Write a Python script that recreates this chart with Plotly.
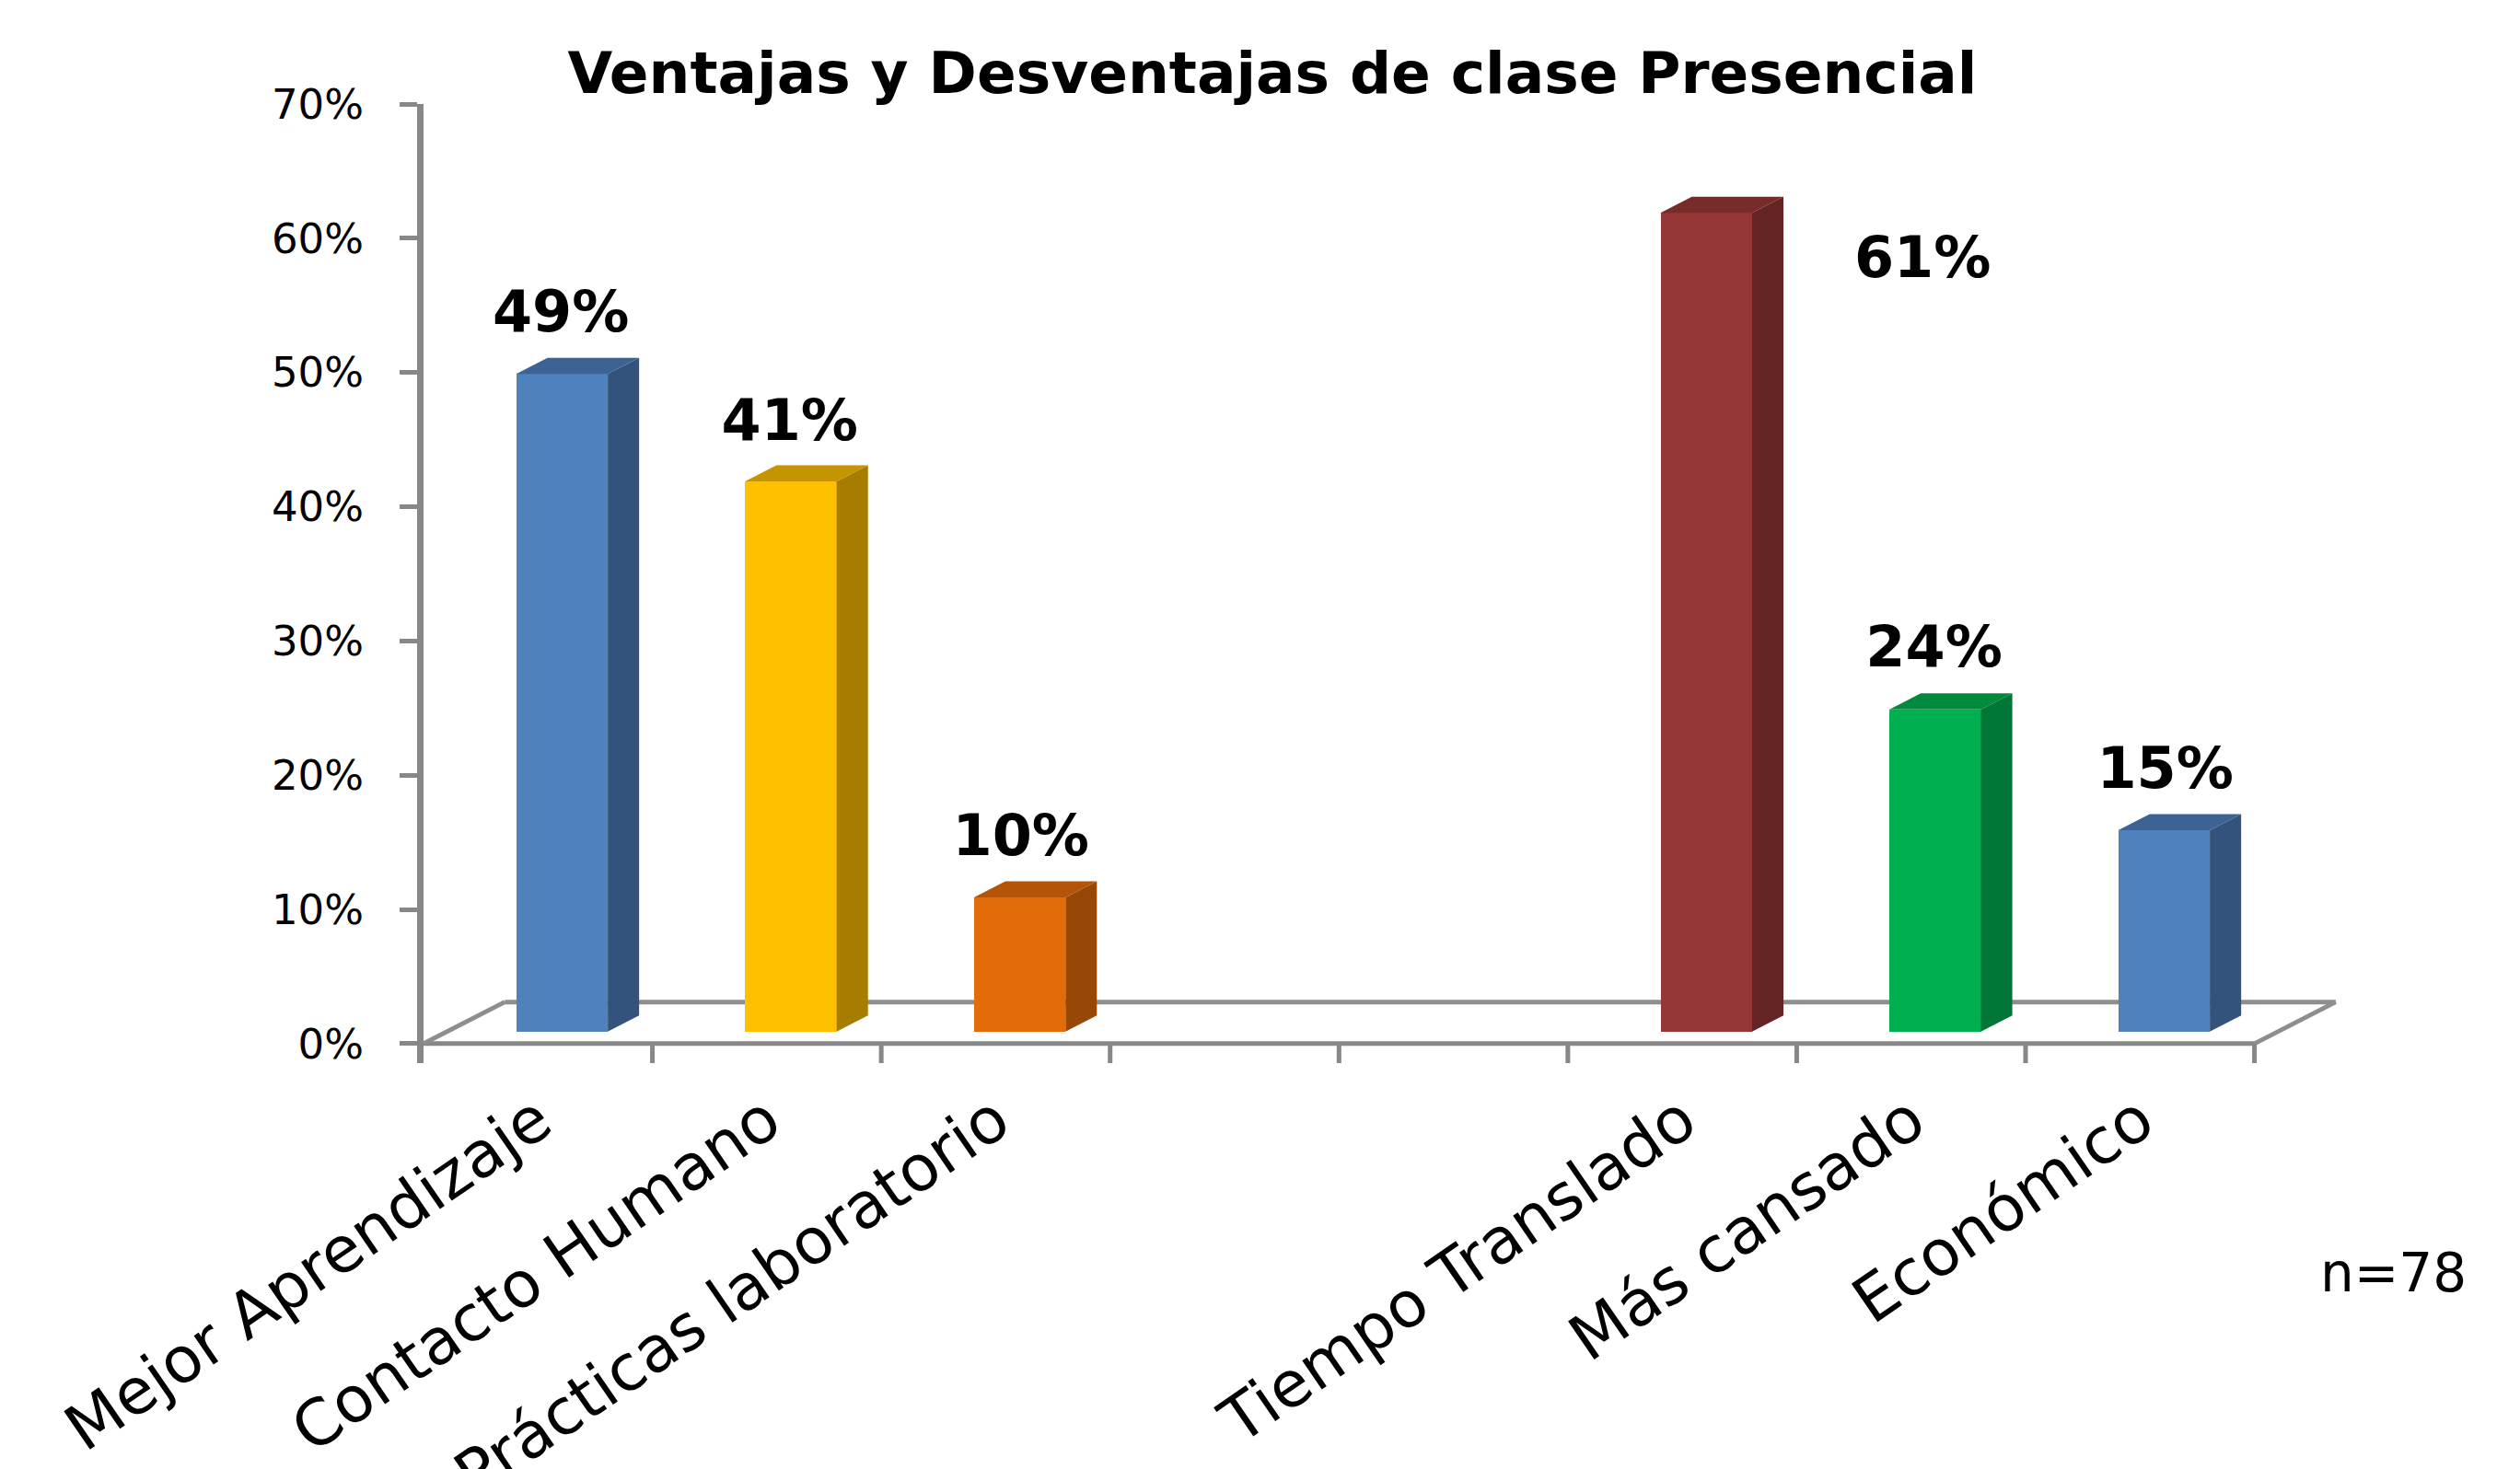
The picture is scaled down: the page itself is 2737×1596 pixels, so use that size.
import plotly.graph_objects as go

# ---------------- data ----------------
categories = ["Mejor Aprendizaje", "Contacto Humano", "Prácticas laboratorio", "", " ",
              "Tiempo Translado", "Más cansado", "Económico"]
bar_categories = ["Mejor Aprendizaje", "Contacto Humano", "Prácticas laboratorio",
                  "Tiempo Translado", "Más cansado", "Económico"]
values = [49, 41, 10, 61, 24, 15]
value_labels = ["49%", "41%", "10%", "61%", "24%", "15%"]
y_tick_values = [0, 10, 20, 30, 40, 50, 60, 70]
y_tick_labels = ["0%", "10%", "20%", "30%", "40%", "50%", "60%", "70%"]
title_text = "Ventajas y Desventajas de clase Presencial"
sample_note = "n=78"

# ---------------- style ----------------
front_colors = ["#4F81BD", "#FFC000", "#E36C0A", "#953735", "#00B050", "#4F81BD"]
side_colors = ["#33537C", "#A67D00", "#974806", "#632423", "#007535", "#33537C"]
top_colors = ["#3C6394", "#C49500", "#B45408", "#772C2A", "#008A3E", "#3C6394"]
label_dx = [0.10, 0.10, 0.11, 1.05, 0.10, 0.11]    # label offset from category centre
label_dy = [5.1, 5.05, 5.1, -2.8, 5.2, 5.1]         # label offset from value

BAR_W = 0.40
FRONT_DX = 0.105
BASE = 0.89
SIDE_DX = 0.137
SIDE_DY = 1.2
FLOOR_DX = 0.355
FLOOR_DY = 3.1
TICK_DOWN = -1.45
X_MAX = 8.4
AXIS_GRAY = "#878787"
FLOOR_GRAY = "#8E8E8E"

n_cat = len(categories)
idx = [categories.index(c) for c in bar_categories]
centers = [i + 0.5 + FRONT_DX for i in idx]

fig = go.Figure()

# front faces
fig.add_trace(go.Bar(x=centers, y=values, base=BASE, width=BAR_W,
                     marker=dict(color=front_colors, line=dict(width=0)),
                     hoverinfo="skip", showlegend=False))

# side and top faces
for c, v, sc, tc in zip(centers, values, side_colors, top_colors):
    x0, x1 = c - BAR_W / 2, c + BAR_W / 2
    top = BASE + v
    fig.add_trace(go.Scatter(
        x=[x1, x1 + SIDE_DX, x1 + SIDE_DX, x1, x1],
        y=[BASE, BASE + SIDE_DY, top + SIDE_DY, top, BASE],
        fill="toself", fillcolor=sc, mode="lines", line=dict(width=0, color=sc),
        hoverinfo="skip", showlegend=False))
    fig.add_trace(go.Scatter(
        x=[x0, x0 + SIDE_DX, x1 + SIDE_DX, x1, x0],
        y=[top, top + SIDE_DY, top + SIDE_DY, top, top],
        fill="toself", fillcolor=tc, mode="lines", line=dict(width=0, color=tc),
        hoverinfo="skip", showlegend=False))

# value labels
fig.add_trace(go.Scatter(
    x=[i + 0.5 + dx for i, dx in zip(idx, label_dx)],
    y=[v + dy for v, dy in zip(values, label_dy)],
    text=value_labels, mode="text",
    textfont=dict(family="DejaVu Sans", size=62, color="black", weight="bold"),
    textposition="middle center", hoverinfo="skip", showlegend=False, cliponaxis=False))

# floor & category ticks (shapes below traces)
shapes = []
def seg(x0, y0, x1, y1, w, col):
    shapes.append(dict(type="line", xref="x", yref="y", x0=x0, y0=y0, x1=x1, y1=y1,
                       line=dict(color=col, width=w), layer="below"))
seg(0, 0, n_cat, 0, 5, AXIS_GRAY)
seg(FLOOR_DX, FLOOR_DY, n_cat + FLOOR_DX, FLOOR_DY, 5, FLOOR_GRAY)
seg(0, 0, FLOOR_DX, FLOOR_DY, 5, FLOOR_GRAY)
seg(n_cat, 0, n_cat + FLOOR_DX, FLOOR_DY, 5, FLOOR_GRAY)
for k in range(1, n_cat + 1):
    seg(k, 0, k, TICK_DOWN, 5, AXIS_GRAY)

label_pos = [i + 0.5 for i, c in enumerate(categories) if c.strip()]
label_txt = [c for c in categories if c.strip()]

L, T = 452, 105
CAT_PX = 248.6
PX_PER_PCT = (1126 - 105) / 70.0
R = 2737 - (L + X_MAX * CAT_PX)
B = 1596 - (1126 - TICK_DOWN * PX_PER_PCT)

fig.update_layout(
    width=2737, height=1596,
    margin=dict(l=L, r=R, t=T, b=B, pad=0),
    paper_bgcolor="white", plot_bgcolor="white",
    template="none",
    shapes=shapes,
    bargap=0,
    title=dict(text=title_text, x=1374 / 2737, y=1 - 71 / 1596,
               xanchor="center", yanchor="middle",
               font=dict(family="DejaVu Sans", size=63, color="black", weight="bold")),
    xaxis=dict(range=[0, X_MAX], tickvals=label_pos, ticktext=label_txt,
               tickangle=-34.5, ticks="", showline=False, showgrid=False, zeroline=False,
               automargin=False, ticklabelstandoff=8,
               tickfont=dict(family="DejaVu Sans", size=69, color="black")),
    yaxis=dict(range=[TICK_DOWN, 70], tickvals=y_tick_values, ticktext=y_tick_labels,
               ticks="outside", ticklen=19, tickwidth=5, tickcolor=AXIS_GRAY,
               showline=True, linewidth=7, linecolor=AXIS_GRAY,
               showgrid=False, zeroline=False, automargin=False, ticklabelstandoff=30,
               tickfont=dict(family="DejaVu Sans", size=45, color="black")),
    annotations=[dict(text=sample_note, xref="paper", yref="paper",
                      x=(2592 - L) / (X_MAX * CAT_PX),
                      y=(1596 - B - 1375) / (1596 - B - T),
                      xanchor="center", yanchor="middle", showarrow=False,
                      font=dict(family="DejaVu Sans", size=58, color="black"))],
)

fig.write_html("out.html")
